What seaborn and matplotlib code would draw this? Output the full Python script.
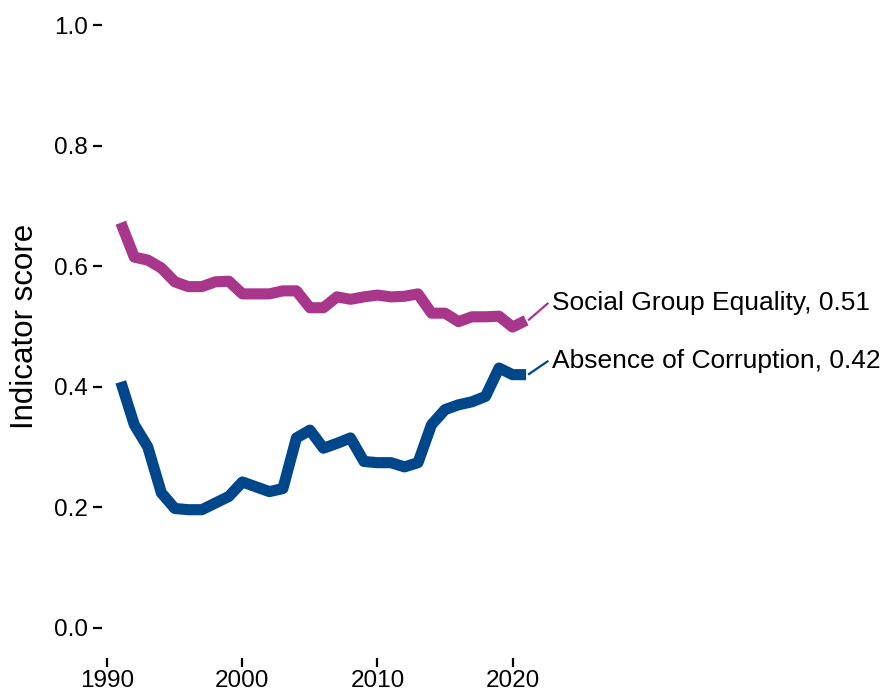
import pandas as pd
import matplotlib.pyplot as plt
import seaborn as sns

years = list(range(1991, 2022))

social_group_equality = [
    0.672, 0.615, 0.610, 0.597, 0.574, 0.566, 0.566, 0.574, 0.575, 0.554,
    0.554, 0.554, 0.559, 0.559, 0.531, 0.531, 0.549, 0.545, 0.549, 0.552,
    0.549, 0.550, 0.554, 0.522, 0.522, 0.508, 0.516, 0.516, 0.517, 0.499,
    0.510,
]

absence_of_corruption = [
    0.408, 0.337, 0.300, 0.224, 0.198, 0.196, 0.196, 0.207, 0.218, 0.242,
    0.234, 0.226, 0.231, 0.315, 0.328, 0.298, 0.306, 0.315, 0.276, 0.274,
    0.274, 0.267, 0.274, 0.337, 0.362, 0.370, 0.375, 0.384, 0.431, 0.420,
    0.420,
]

series_names = ["Social Group Equality", "Absence of Corruption"]
series_colors = ["#A8378C", "#00468B"]
label_values = ["0.51", "0.42"]
label_y = [0.539, 0.443]

df = pd.DataFrame({
    "year": years * 2,
    "score": social_group_equality + absence_of_corruption,
    "indicator": [series_names[0]] * len(years) + [series_names[1]] * len(years),
})

sns.set_style("white")
plt.rcParams["font.family"] = ["Liberation Sans", "DejaVu Sans"]
plt.rcParams["text.color"] = "black"
plt.rcParams["axes.labelcolor"] = "black"
plt.rcParams["xtick.color"] = "black"
plt.rcParams["ytick.color"] = "black"

fig = plt.figure(figsize=(8.85, 6.92), dpi=100)
ax = fig.add_axes([102 / 885, 1 - 658 / 692, 783 / 885, 633 / 692])

sns.lineplot(
    data=df,
    x="year",
    y="score",
    hue="indicator",
    hue_order=series_names,
    palette=series_colors,
    linewidth=8,
    legend=False,
    ax=ax,
)
for line in ax.get_lines():
    line.set_solid_capstyle("butt")
    line.set_solid_joinstyle("round")

# end labels with thin leader segments
last_vals = [social_group_equality[-1], absence_of_corruption[-1]]
for name, col, val, lv, ly in zip(series_names, series_colors, last_vals, label_values, label_y):
    ax.plot([years[-1] + 0.15, 2022.65], [val, ly], color=col, lw=1.6,
            solid_capstyle="butt", clip_on=False)
    ax.text(2022.9, ly, f"{name}, {lv}", ha="left", va="center",
            fontsize=19, color="black", clip_on=False)

ax.set_xlim(1989.61, 1989.61 + 783 / 13.51)
ax.set_ylim(-0.05, 1.0)
ax.set_xticks([1990, 2000, 2010, 2020])
ax.set_yticks([0.0, 0.2, 0.4, 0.6, 0.8, 1.0])
ax.set_yticklabels(["0.0", "0.2", "0.4", "0.6", "0.8", "1.0"])

ax.tick_params(axis="both", which="major", direction="out", length=6.5, width=1.6,
               colors="black", labelsize=17.5, left=True, bottom=True)
ax.tick_params(axis="y", pad=3.5)
ax.tick_params(axis="x", pad=2)

for s in ax.spines.values():
    s.set_visible(False)

ax.set_xlabel("")
ax.set_ylabel("Indicator score", fontsize=22.5)
ax.yaxis.set_label_coords(-0.079, 0.5245)
ax.grid(False)

fig.savefig("out.png", dpi=100)
